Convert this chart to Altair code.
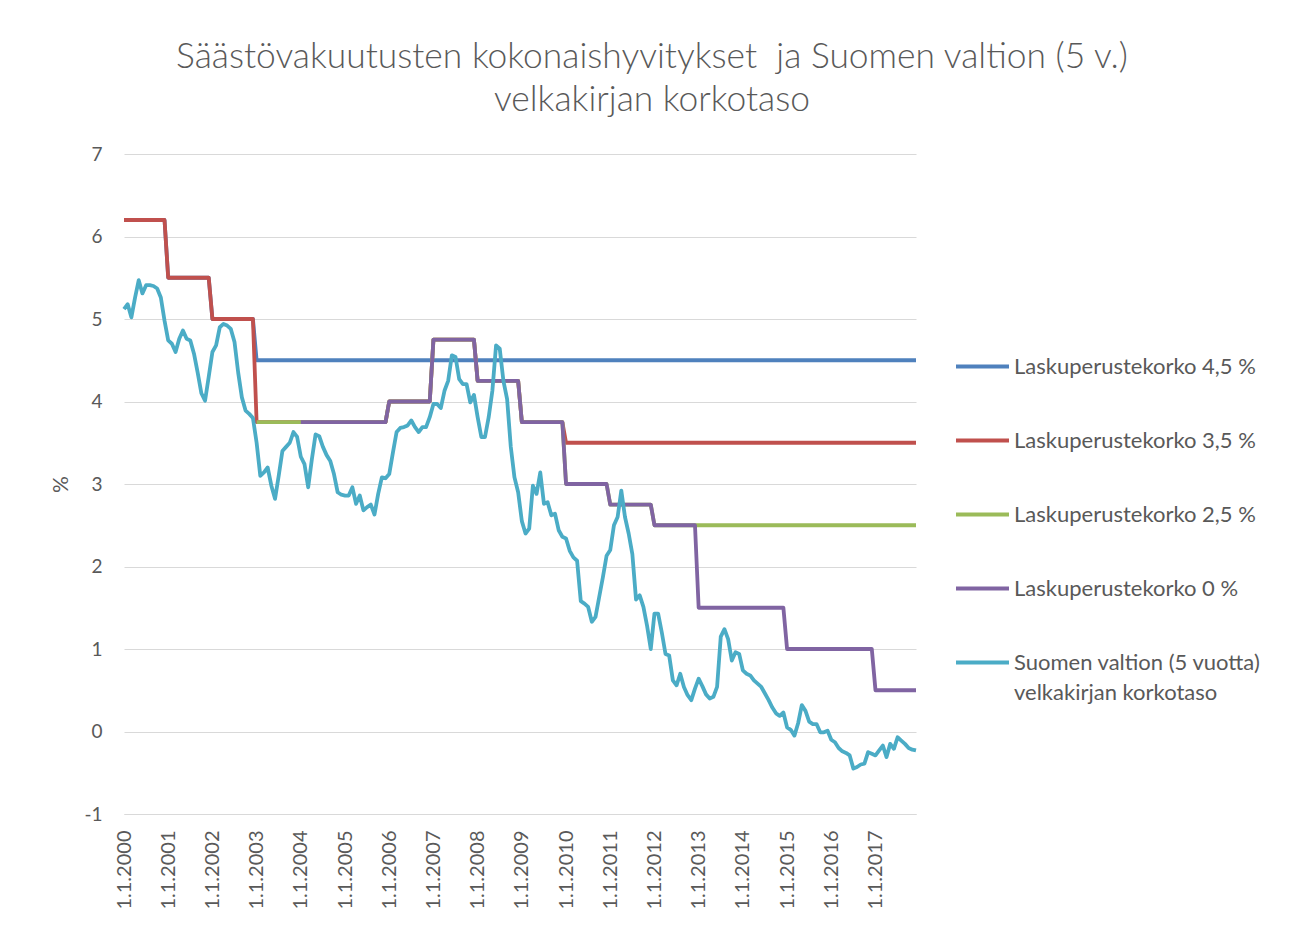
import altair as alt
import pandas as pd

# ---------------- data ----------------
years = list(range(2000, 2018))
tick_labels = ["1.1.%d" % y for y in years]

series_names = [
    "Laskuperustekorko 4,5 %",
    "Laskuperustekorko 3,5 %",
    "Laskuperustekorko 2,5 %",
    "Laskuperustekorko 0 %",
    "Suomen valtion (5 vuotta)|velkakirjan korkotaso",
]
series_colors = ["#4F81BD", "#C0504D", "#9BBB59", "#8064A2", "#4BACC6"]

# yearly levels (Jan–Dec of each year), None = not shown
blue_yearly = [6.2, 5.5, 5.0, 4.5, 4.5, 4.5, 4.5, 4.5, 4.5, 4.5,
               4.5, 4.5, 4.5, 4.5, 4.5, 4.5, 4.5, 4.5]
red_yearly = [6.2, 5.5, 5.0, 3.75, 3.75, 3.75, 4.0, 4.75, 4.25, 3.75,
              3.5, 3.5, 3.5, 3.5, 3.5, 3.5, 3.5, 3.5]
green_yearly = [None, None, None, 3.75, 3.75, 3.75, 4.0, 4.75, 4.25, 3.75,
                3.0, 2.75, 2.5, 2.5, 2.5, 2.5, 2.5, 2.5]
purple_yearly = [None, None, None, None, 3.75, 3.75, 4.0, 4.75, 4.25, 3.75,
                 3.0, 2.75, 2.5, 1.5, 1.5, 1.0, 1.0, 0.5]

# monthly 5-year government bond yield, Jan 2000 ... Dec 2017
bond_monthly = [
    5.12, 5.18, 5.02, 5.26, 5.47, 5.31, 5.41, 5.41, 5.40, 5.37, 5.26, 4.98,   # 2000
    4.74, 4.70, 4.60, 4.76, 4.86, 4.76, 4.74, 4.58, 4.35, 4.10, 4.01, 4.30,   # 2001
    4.60, 4.68, 4.90, 4.94, 4.92, 4.88, 4.72, 4.35, 4.05, 3.89, 3.85, 3.80,   # 2002
    3.50, 3.10, 3.14, 3.20, 2.98, 2.82, 3.10, 3.40, 3.45, 3.50, 3.63, 3.57,   # 2003
    3.33, 3.24, 2.96, 3.30, 3.60, 3.58, 3.45, 3.35, 3.28, 3.12, 2.90, 2.87,   # 2004
    2.86, 2.86, 2.96, 2.76, 2.86, 2.68, 2.72, 2.75, 2.63, 2.88, 3.08, 3.07,   # 2005
    3.12, 3.38, 3.63, 3.68, 3.69, 3.71, 3.77, 3.69, 3.63, 3.69, 3.69, 3.81,   # 2006
    3.97, 3.97, 3.92, 4.13, 4.25, 4.56, 4.54, 4.27, 4.21, 4.21, 3.99, 4.08,   # 2007
    3.81, 3.57, 3.57, 3.81, 4.13, 4.68, 4.64, 4.25, 4.03, 3.45, 3.08, 2.90,   # 2008
    2.55, 2.40, 2.46, 2.98, 2.88, 3.14, 2.76, 2.78, 2.62, 2.64, 2.44, 2.36,   # 2009
    2.34, 2.19, 2.11, 2.07, 1.58, 1.55, 1.51, 1.33, 1.39, 1.63, 1.87, 2.13,   # 2010
    2.20, 2.50, 2.60, 2.92, 2.60, 2.40, 2.15, 1.60, 1.65, 1.51, 1.28, 1.00,   # 2011
    1.43, 1.43, 1.20, 0.94, 0.92, 0.62, 0.56, 0.70, 0.54, 0.44, 0.38, 0.52,   # 2012
    0.64, 0.55, 0.45, 0.40, 0.42, 0.54, 1.15, 1.24, 1.12, 0.86, 0.96, 0.94,   # 2013
    0.74, 0.70, 0.68, 0.62, 0.58, 0.54, 0.46, 0.38, 0.29, 0.22, 0.19, 0.23,   # 2014
    0.05, 0.02, -0.05, 0.10, 0.32, 0.25, 0.12, 0.09, 0.09, -0.01, -0.01, 0.01,  # 2015
    -0.10, -0.13, -0.20, -0.24, -0.26, -0.29, -0.45, -0.43, -0.40, -0.39, -0.25, -0.27,  # 2016
    -0.29, -0.23, -0.17, -0.31, -0.15, -0.21, -0.07, -0.11, -0.15, -0.20, -0.22, -0.23,  # 2017
]

# ---------------- build table ----------------
def monthly_from_yearly(levels):
    out = []
    for v in levels:
        out.extend([v] * 12)
    return out

all_series = [
    monthly_from_yearly(blue_yearly),
    monthly_from_yearly(red_yearly),
    monthly_from_yearly(green_yearly),
    monthly_from_yearly(purple_yearly),
    bond_monthly,
]

frames = []
for name, vals in zip(series_names, all_series):
    df = pd.DataFrame({"m": range(len(vals)), "v": vals, "s": name})
    frames.append(df.dropna())

GRAY = "#595959"
FONT = "Lato"

color_scale = alt.Scale(domain=series_names, range=series_colors)

layers = []
for i, df in enumerate(frames):
    layers.append(
        alt.Chart(df).mark_line(strokeWidth=3.8, strokeJoin="round", strokeCap="butt").encode(
            x=alt.X("m:Q",
                    scale=alt.Scale(domain=[0, 215], nice=False, zero=False),
                    axis=alt.Axis(values=[12 * k for k in range(len(years))],
                                  labelExpr="'1.1.' + (2000 + datum.value / 12)",
                                  labelAngle=270, labelFontSize=20, labelFont=FONT,
                                  labelColor=GRAY, labelPadding=16, ticks=False,
                                  grid=False, domain=True, domainColor="#D9D9D9",
                                  title=None)),
            y=alt.Y("v:Q",
                    scale=alt.Scale(domain=[-1, 7], nice=False, zero=False),
                    axis=alt.Axis(values=list(range(-1, 8)), labelFontSize=19,
                                  labelExpr="datum.value < 0 ? '-' + abs(datum.value) : '' + datum.value",
                                  labelFont=FONT, labelColor=GRAY, labelPadding=22,
                                  ticks=False, domain=False, grid=True,
                                  gridColor="#D9D9D9", gridWidth=1,
                                  title="%", titleFont=FONT, titleFontSize=21,
                                  titleFontWeight="normal", titleColor=GRAY,
                                  titlePadding=12)),
            color=alt.Color("s:N", scale=color_scale,
                            legend=alt.Legend(title=None, orient="none",
                                              legendX=830, legendY=184,
                                              symbolType="stroke",
                                              symbolSize=2809,
                                              symbolStrokeWidth=4,
                                              labelFontSize=22, labelFont=FONT,
                                              labelColor=GRAY, labelOffset=3,
                                              rowPadding=34, padding=0,
                                              labelLimit=400,
                                              labelExpr="split(datum.label, '|')")),
        )
    )

chart = alt.layer(*layers).properties(
    width=792,
    height=660,
    autosize=alt.AutoSizeParams(type="none"),
    padding={"left": 116, "top": 146, "right": 360, "bottom": 100},
    title=alt.TitleParams(
        text=["Säästövakuutusten kokonaishyvitykset\u00a0 ja Suomen valtion (5 v.)",
              "velkakirjan korkotaso"],
        fontSize=35.4, font=FONT, fontWeight=300, color=GRAY,
        anchor="middle", dx=132, offset=27, lineHeight=43,
    ),
).configure(background="white", view=alt.ViewConfig(stroke=None))

chart.save(
    "out.html",
    embed_options={
        "renderer": "svg",
        "actions": False,
        "patch": [
            {"op": "add",
             "path": "/legends/0/encode/labels/update/lineHeight",
             "value": {"value": 30}},
        ],
    },
)
